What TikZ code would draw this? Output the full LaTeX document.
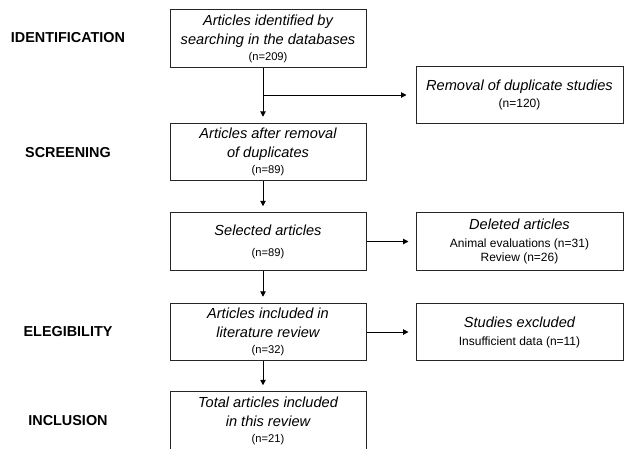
\documentclass[tikz,border=0pt]{standalone}
\usepackage{fontspec}
\setmainfont{Liberation Sans}
\usetikzlibrary{arrows.meta,calc}

\newcommand{\cntfont}{\upshape\fontsize{11.2}{13}\selectfont}
\newcommand{\detfont}{\upshape\fontsize{12}{14}\selectfont}

\begin{document}
\begin{tikzpicture}[x=1pt, y=-1pt,
  box/.style={rectangle, draw=black!85, line width=1pt, align=center, minimum width=196pt, minimum height=57.5pt, inner sep=2pt, font=\fontsize{14.6}{19}\selectfont\itshape},
  side/.style={box, minimum width=207pt},
  stage/.style={font=\fontsize{14.4}{16}\selectfont\bfseries},
  arrow/.style={-{Triangle[length=5.5pt,width=5.5pt]}, line width=1pt, shorten >=6pt},
]
\useasboundingbox (0,0) rectangle (626,448);

% Stages
\node[stage] (sIdent) at (68,38) {IDENTIFICATION};
\node[stage] (sScreen) at (68,153) {SCREENING};
\node[stage] (sElig) at (68,332) {ELEGIBILITY};
\node[stage] (sIncl) at (68,421) {INCLUSION};

% Main column
\node[box] (ident) at (268,38.5) {Articles identified by\\searching in the databases\\[-3pt]{\cntfont (n=209)}};
\node[box] (dupl) at (268,152) {Articles after removal\\of duplicates\\[-3pt]{\cntfont (n=89)}};
\node[box] (sel) at (268,241.5) {Selected articles\\[2pt]{\cntfont (n=89)}};
\node[box] (incl) at (268,332) {Articles included in\\literature review\\[-3pt]{\cntfont (n=32)}};
\node[box] (total) at (268,420.5) {Total articles included\\in this review\\[-3pt]{\cntfont (n=21)}};

% Side column
\node[side] (removal) at (519.5,95) {Removal of duplicate studies\\[-2pt]{\detfont (n=120)}};
\node[side] (deleted) at (519.5,241.5) {Deleted articles\\[-1pt]{\detfont Animal evaluations (n=31)}\\[-5pt]{\detfont Review (n=26)}};
\node[side] (excluded) at (519.5,332) {Studies excluded\\[-1pt]{\detfont Insufficient data (n=11)}};

% Flow arrows
\draw[arrow] ([xshift=-5pt]ident.south) -- ([xshift=-5pt]dupl.north);
\coordinate (split) at ([xshift=-5pt]ident.south |- removal.west);
\draw[arrow, shorten >=9pt] (split) -- (removal.west);
\draw[arrow] ([xshift=-5pt]dupl.south) -- ([xshift=-5pt]sel.north);
\draw[arrow] ([xshift=-5pt]sel.south) -- ([xshift=-5pt]incl.north);
\draw[arrow] ([xshift=-5pt]incl.south) -- ([xshift=-5pt]total.north);
\draw[arrow, shorten >=7pt] (sel.east) -- (deleted.west);
\draw[arrow, shorten >=7pt] (incl.east) -- (excluded.west);

\end{tikzpicture}
\end{document}
